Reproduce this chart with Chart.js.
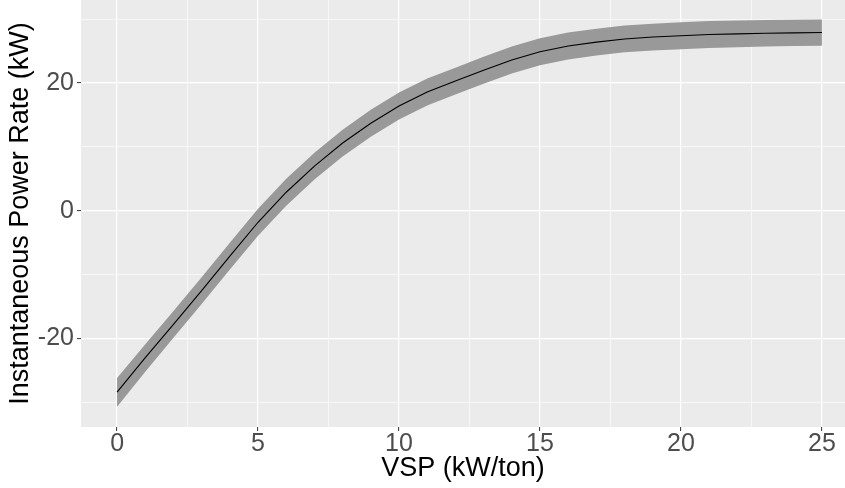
<!DOCTYPE html>
<html>
<head>
<meta charset="utf-8">
<script src="https://cdn.jsdelivr.net/npm/chart.js@4/dist/chart.umd.min.js"></script>
<style>
  html, body { margin: 0; padding: 0; background: #ffffff; }
  #wrap { width: 845px; height: 488px; }
</style>
</head>
<body>
<div id="wrap"><canvas id="powerChart" width="845" height="488"></canvas></div>
<script>
// VSP (kW/ton) values
const vsp = [0, 1, 2, 3, 4, 5, 6, 7, 8, 9, 10, 11, 12, 13, 14, 15, 16, 17, 18, 19, 20, 21, 22, 23, 24, 25];
// fitted instantaneous power rate (kW)
const rate = [-28.4, -23.0, -17.8, -12.5, -7.1, -1.8, 2.9, 7.0, 10.6, 13.7, 16.4, 18.6, 20.3, 22.0, 23.6, 24.9,
              25.8, 26.4, 26.9, 27.2, 27.4, 27.6, 27.7, 27.8, 27.85, 27.9];
// confidence band
const upper = [-26.2, -20.9, -15.7, -10.4, -5.0, 0.3, 5.0, 9.1, 12.7, 15.8, 18.5, 20.7, 22.4, 24.1, 25.7, 27.0,
               27.9, 28.5, 29.0, 29.3, 29.5, 29.7, 29.8, 29.85, 29.9, 29.95];
const lower = [-30.7, -25.2, -19.9, -14.6, -9.2, -3.9, 0.8, 4.9, 8.5, 11.6, 14.3, 16.5, 18.2, 19.9, 21.5, 22.8,
               23.7, 24.3, 24.8, 25.1, 25.3, 25.5, 25.6, 25.7, 25.8, 25.85];
// axis ticks (major get labels, minor only grid)
const xTicks = [0, 2.5, 5, 7.5, 10, 12.5, 15, 17.5, 20, 22.5, 25];
const xLabels = [0, 5, 10, 15, 20, 25];
const yTicks = [-30, -20, -10, 0, 10, 20, 30];
const yLabels = [-20, 0, 20];

function toPoints(ys) {
    return vsp.map((x, i) => ({ x: x, y: ys[i] }));
}

// grey panel behind the plot area
const panelBg = {
    id: 'panelBg',
    beforeDraw(chart) {
        const a = chart.chartArea;
        chart.ctx.save();
        chart.ctx.fillStyle = '#EBEBEB';
        chart.ctx.fillRect(a.left, a.top, a.right - a.left, a.bottom - a.top);
        chart.ctx.restore();
    }
};

const font = 'Liberation Sans, Arial, Helvetica, sans-serif';

const ctx = document.getElementById('powerChart').getContext('2d');
new Chart(ctx, {
    type: 'line',
    data: {
        datasets: [
            {
                label: 'fit',
                data: toPoints(rate),
                borderColor: '#000000',
                borderWidth: 1.1,
                pointRadius: 0,
                tension: 0,
                fill: false
            },
            {
                label: 'upper',
                data: toPoints(upper),
                borderWidth: 0,
                borderColor: 'rgba(0,0,0,0)',
                backgroundColor: '#999999',
                pointRadius: 0,
                tension: 0,
                fill: '+1'
            },
            {
                label: 'lower',
                data: toPoints(lower),
                borderWidth: 0,
                borderColor: 'rgba(0,0,0,0)',
                pointRadius: 0,
                tension: 0,
                fill: false
            }
        ]
    },
    options: {
        responsive: false,
        animation: false,
        layout: { padding: 0 },
        plugins: {
            legend: { display: false },
            tooltip: { enabled: false }
        },
        scales: {
            x: {
                type: 'linear',
                min: -1.28,
                max: 25.82,
                afterBuildTicks: s => { s.ticks = xTicks.map(v => ({ value: v })); },
                afterFit: s => { s.height = 61; s.paddingLeft = 0; s.paddingRight = 0; },
                border: { display: false },
                grid: {
                    color: '#FFFFFF',
                    lineWidth: c => xLabels.includes(c.tick.value) ? 1.2 : 0.6,
                    tickLength: 4,
                    tickWidth: 1,
                    tickColor: c => xLabels.includes(c.tick.value) ? '#333333' : 'rgba(0,0,0,0)'
                },
                ticks: {
                    autoSkip: false,
                    maxRotation: 0,
                    padding: 1,
                    color: '#4D4D4D',
                    font: { family: font, size: 25, lineHeight: 1 },
                    callback: v => xLabels.includes(v) ? String(v) : ''
                },
                title: {
                    display: true,
                    text: 'VSP (kW/ton)',
                    color: '#000000',
                    padding: { top: 0, bottom: 3 },
                    font: { family: font, size: 27 }
                }
            },
            y: {
                type: 'linear',
                min: -33.86,
                max: 33.0,
                afterBuildTicks: s => { s.ticks = yTicks.map(v => ({ value: v })); },
                afterFit: s => { s.width = 81; s.paddingTop = 0; s.paddingBottom = 0; },
                border: { display: false },
                grid: {
                    color: '#FFFFFF',
                    lineWidth: c => yLabels.includes(c.tick.value) ? 1.2 : 0.6,
                    tickLength: 4,
                    tickWidth: 1,
                    tickColor: c => yLabels.includes(c.tick.value) ? '#333333' : 'rgba(0,0,0,0)'
                },
                ticks: {
                    autoSkip: false,
                    padding: 3,
                    color: '#4D4D4D',
                    font: { family: font, size: 25, lineHeight: 1 },
                    callback: v => yLabels.includes(v) ? String(v) : ''
                },
                title: {
                    display: true,
                    text: 'Instantaneous Power Rate (kW)',
                    color: '#000000',
                    padding: { top: 4, bottom: 0 },
                    font: { family: font, size: 27 }
                }
            }
        }
    },
    plugins: [panelBg]
});
</script>
</body>
</html>
